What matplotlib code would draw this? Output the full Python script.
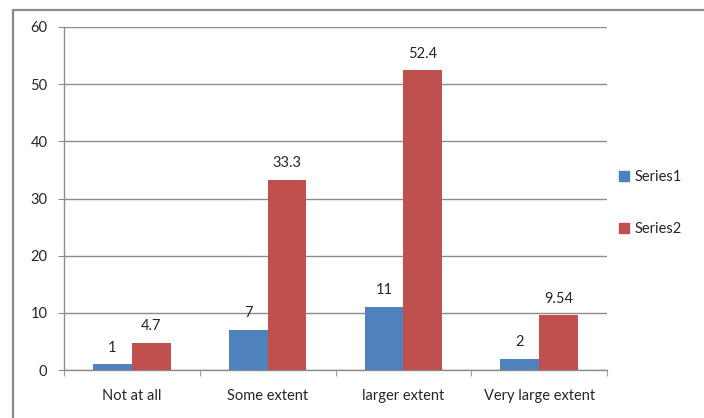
import matplotlib
matplotlib.use("Agg")
import matplotlib.pyplot as plt
from matplotlib.patches import Rectangle, Patch
import numpy as np

categories = ["Not at all", "Some extent", "larger extent", "Very large extent"]
series1 = [1, 7, 11, 2]
series2 = [4.7, 33.3, 52.4, 9.54]
series1_labels = ["1", "7", "11", "2"]
series2_labels = ["4.7", "33.3", "52.4", "9.54"]
y_ticks = [0, 10, 20, 30, 40, 50, 60]

BLUE = "#4F81BD"
RED = "#C0504D"
GRID = "#8C8C8C"
TEXT = "#262626"

plt.rcParams["font.family"] = ["Lato", "DejaVu Sans"]
plt.rcParams["font.size"] = 10.5

W, H = 704, 418
fig = plt.figure(figsize=(W / 100, H / 100), dpi=100)
fig.patch.set_facecolor("white")

# outer chart frame
fig.patches.append(Rectangle((13 / W, -0.05), 1.1, 1 - 10 / H + 0.05,
                             transform=fig.transFigure, fill=False,
                             edgecolor="#8A8A8A", linewidth=1.6, zorder=0))

ax = fig.add_axes([64 / W, 1 - 370 / H, (607 - 64) / W, (370 - 27) / H])

x = np.arange(len(categories))
bw = 0.286
b1 = ax.bar(x - bw / 2, series1, bw, color=BLUE, zorder=3, label="Series1")
b2 = ax.bar(x + bw / 2, series2, bw, color=RED, zorder=3, label="Series2")

for bars, labels in ((b1, series1_labels), (b2, series2_labels)):
    for rect, lab in zip(bars, labels):
        ax.annotate(lab, (rect.get_x() + rect.get_width() / 2, rect.get_height()),
                    xytext=(0, 7), textcoords="offset points",
                    ha="center", va="bottom", color=TEXT, fontsize=10.5)

ax.set_xlim(-0.5, len(categories) - 0.5)
ax.set_ylim(0, 60)
ax.set_yticks(y_ticks)
ax.set_xticks(x)
ax.set_xticklabels(categories, color=TEXT)
ax.set_xticks(np.arange(-0.5, len(categories)), minor=True)
ax.tick_params(axis="x", which="major", length=0, pad=14)
ax.tick_params(axis="x", which="minor", length=4, direction="out", color=GRID)
ax.tick_params(axis="y", length=4, direction="out", color=GRID, pad=8, labelcolor=TEXT)

ax.yaxis.grid(True, color=GRID, linewidth=1.0, zorder=0)
ax.set_axisbelow(True)
for side in ("top", "right"):
    ax.spines[side].set_visible(False)
for side in ("left", "bottom"):
    ax.spines[side].set_color(GRID)
    ax.spines[side].set_linewidth(1.0)

handles = [Patch(color=BLUE), Patch(color=RED)]
fig.legend(handles, ["Series1", "Series2"], loc="center left",
           bbox_to_anchor=(606 / W, 1 - 203 / H), frameon=False,
           handlelength=0.7, handleheight=0.7, handletextpad=0.35,
           labelspacing=2.6, fontsize=10.5, labelcolor=TEXT)

fig.savefig("out.png", dpi=100, facecolor="white")
